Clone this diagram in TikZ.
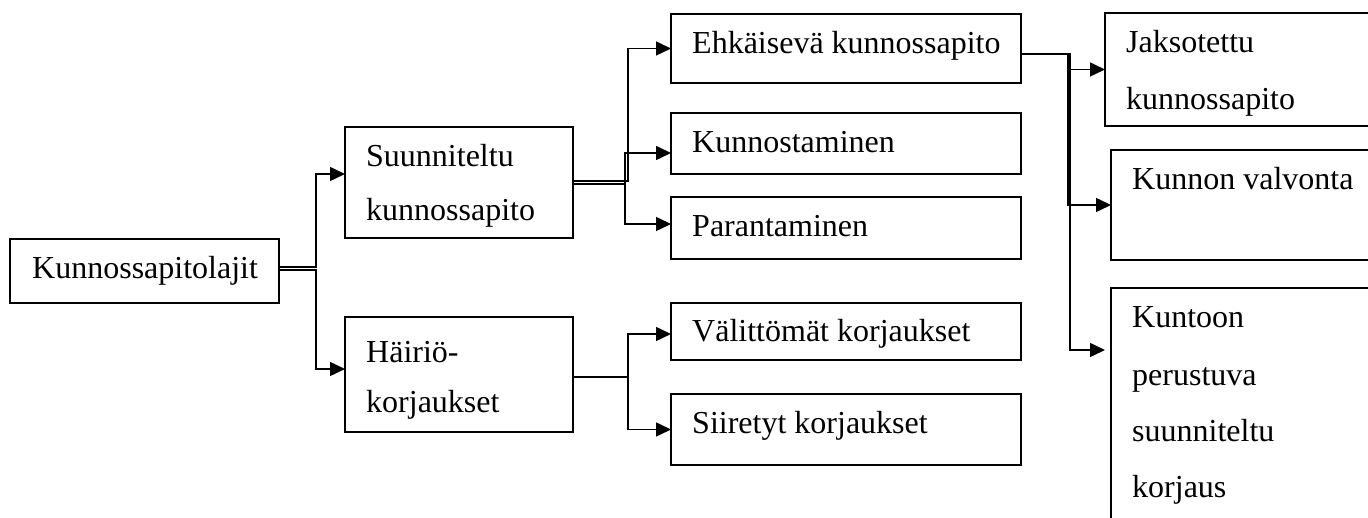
\documentclass[tikz,border=0pt]{standalone}
\usepackage{fontspec}
\setmainfont{Liberation Serif}
\usetikzlibrary{arrows.meta}
\begin{document}
\begin{tikzpicture}[x=1pt,y=-1pt,
  box/.style={draw, line width=2pt, rectangle, inner sep=0pt, outer sep=0pt, anchor=north west},
  txt/.style={inner sep=0pt, anchor=base west, font=\fontsize{32}{38}\selectfont},
  conn/.style={line width=1.5pt},
  arr/.style={conn, -{Triangle[length=15pt,width=14pt]}}]
\useasboundingbox (0,0) rectangle (1368,518);
\clip (0,0) rectangle (1368,518);
% boxes
\node[box, minimum width=269pt, minimum height=64pt] (k) at (10,239) {};
\node[box, minimum width=228pt, minimum height=111pt] (s) at (345,127) {};
\node[box, minimum width=228pt, minimum height=115pt] (h) at (345,317) {};
\node[box, minimum width=350pt, minimum height=69pt] (e) at (671,14) {};
\node[box, minimum width=350pt, minimum height=61pt] (ku) at (671,113) {};
\node[box, minimum width=350pt, minimum height=62pt] (pa) at (671,197) {};
\node[box, minimum width=350pt, minimum height=57pt] (va) at (671,303) {};
\node[box, minimum width=350pt, minimum height=71pt] (si) at (671,394) {};
\node[box, minimum width=300pt, minimum height=113pt] (j) at (1105,13) {};
\node[box, minimum width=300pt, minimum height=110pt] (kv) at (1111,150) {};
\node[box, minimum width=300pt, minimum height=260pt] (kk) at (1111,288) {};
% texts
\node[txt] (tk) at (32,279) {Kunnossapitolajit};
\node[txt] (ts1) at (366,167) {Suunniteltu};
\node[txt] (ts2) at (366,221) {kunnossapito};
\node[txt] (th1) at (366,363) {Häiriö-};
\node[txt] (th2) at (366,413) {korjaukset};
\node[txt] (te) at (692,54) {Ehkäisevä kunnossapito};
\node[txt] (tku) at (692,153) {Kunnostaminen};
\node[txt] (tpa) at (692,237) {Parantaminen};
\node[txt] (tva) at (692,342) {Välittömät korjaukset};
\node[txt] (tsi) at (692,433) {Siiretyt korjaukset};
\node[txt] (tj1) at (1126,53) {Jaksotettu};
\node[txt] (tj2) at (1126,110) {kunnossapito};
\node[txt] (tkv) at (1132,190) {Kunnon valvonta};
\node[txt] (tkk1) at (1132,328) {Kuntoon};
\node[txt] (tkk2) at (1132,385) {perustuva};
\node[txt] (tkk3) at (1132,441) {suunniteltu};
\node[txt] (tkk4) at (1132,497) {korjaus};
% connectors
\draw[arr] ([yshift=4pt]k.east) -- ++(37,0) |- ([yshift=8.5pt]s.west);
\draw[arr] ([yshift=1pt]k.east) -- ++(37,0) |- ([yshift=5.5pt]h.west);
\draw[arr] ([yshift=1.5pt]s.east) -- ++(55,0) |- (e.west);
\draw[arr] ([yshift=-1.5pt]s.east) -- ++(52,0) |- ([yshift=-9.5pt]ku.west);
\draw[arr] ([yshift=-1.5pt]s.east) -- ++(52,0) |- ([yshift=4pt]pa.west);
\draw[arr] ([yshift=-2.5pt]h.east) -- ++(55,0) |- ([yshift=-2.5pt]va.west);
\draw[arr] ([yshift=-2.5pt]h.east) -- ++(55,0) |- (si.west);
\draw[arr] ([yshift=-5.5pt]e.east) -- ++(47,0) |- (j.west);
\draw[arr] ([yshift=-5.5pt]e.east) -- ++(47,0) |- (kv.west);
\draw[arr, shorten >=6pt] ([yshift=-5.5pt]e.east) -- ++(49,0) |- ([yshift=68pt]kk.west);
\end{tikzpicture}
\end{document}
